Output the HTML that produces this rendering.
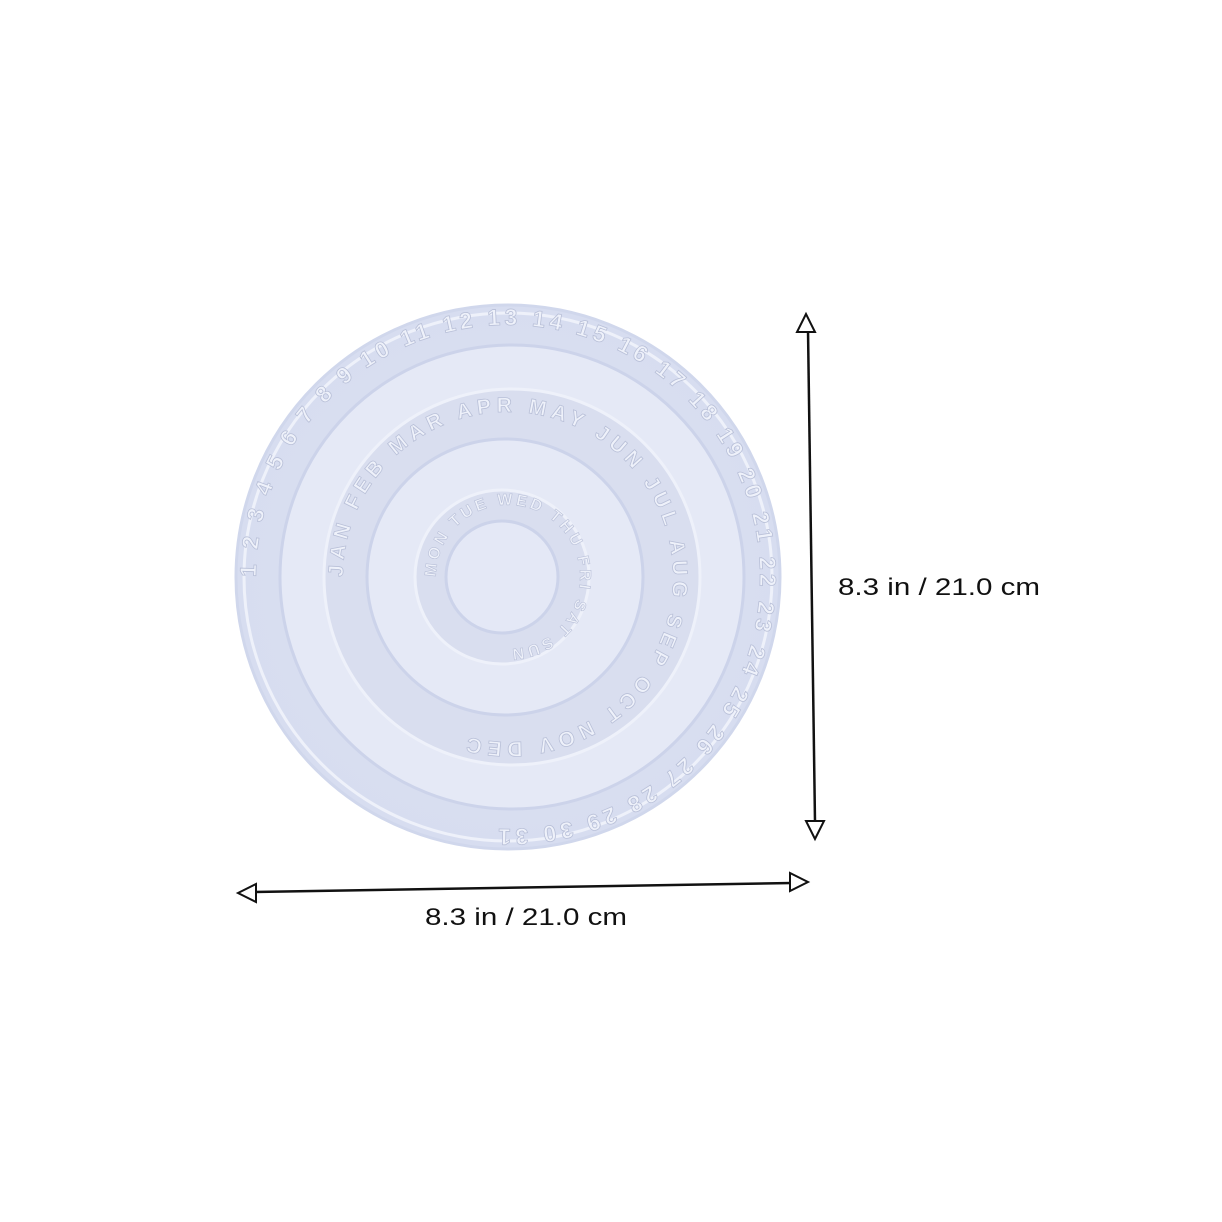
<!DOCTYPE html>
<html><head><meta charset="utf-8">
<style>
html,body{margin:0;padding:0;background:#fff;}
svg{display:block;}
text{font-family:"Liberation Sans",sans-serif;}
</style></head>
<body>
<svg width="1222" height="1222" viewBox="0 0 1222 1222">
<defs>
<radialGradient id="g" cx="50%" cy="50%" r="50%">
<stop offset="0" stop-color="#dde2f1"/><stop offset="1" stop-color="#d7ddf0"/>
</radialGradient>
<path id="p1" d="M508,577 m-252,0 a252,252 0 1,1 504,0 a252,252 0 1,1 -504,0"/>
<path id="p2" d="M508,577 m-165,0 a165,165 0 1,1 330,0 a165,165 0 1,1 -330,0"/>
<path id="p3" d="M508,577 m-72,0 a72,72 0 1,1 144,0 a72,72 0 1,1 -144,0"/>
</defs>
<g>
<circle cx="508" cy="577" r="272" fill="url(#g)" stroke="#d0d7ec" stroke-width="3"/>
<circle cx="508" cy="577" r="264" fill="none" stroke="#eef1fa" stroke-width="3"/>
<text font-size="23" font-weight="bold" fill="#eef1fa" stroke="#b9c0d8" stroke-width="0.8" letter-spacing="4"><textPath href="#p1">1 2 3 4 5 6 7 8 9 10 11 12 13 14 15 16 17 18 19 20 21 22 23 24 25 26 27 28 29 30 31</textPath></text>
<circle cx="512" cy="577" r="232" fill="#e5e9f6" stroke="#ccd3ea" stroke-width="3"/>
<circle cx="512" cy="577" r="188" fill="#d9deef" stroke="#eef1fa" stroke-width="3"/>
<text font-size="21" font-weight="bold" fill="#eef1fa" stroke="#b9c0d8" stroke-width="0.8" letter-spacing="5"><textPath href="#p2">JAN FEB MAR APR MAY JUN JUL AUG SEP OCT NOV DEC</textPath></text>
<circle cx="505" cy="577" r="138" fill="#e5e9f6" stroke="#ccd3ea" stroke-width="3"/>
<circle cx="502" cy="577" r="87" fill="#d9deef" stroke="#eef1fa" stroke-width="3"/>
<text font-size="16" font-weight="bold" fill="#eef1fa" stroke="#b9c0d8" stroke-width="0.6" letter-spacing="3"><textPath href="#p3">MON TUE WED THU FRI SAT SUN</textPath></text>
<circle cx="502" cy="577" r="56" fill="#e4e8f6" stroke="#ccd3ea" stroke-width="3"/>
</g>
<g stroke="#111" stroke-width="2.5" fill="#fff">
<line x1="808" y1="330" x2="815" y2="822"/>
<polygon points="806,314 797,332 815,332" stroke-width="2"/>
<polygon points="815,839 806,821 824,821" stroke-width="2"/>
</g>
<text x="838" y="595" font-size="24" fill="#111" textLength="202" lengthAdjust="spacingAndGlyphs">8.3 in / 21.0 cm</text>
<g stroke="#111" stroke-width="2.5" fill="#fff">
<line x1="254" y1="892" x2="792" y2="883"/>
<polygon points="238,893 256,884 256,902" stroke-width="2"/>
<polygon points="808,882 790,873 790,891" stroke-width="2"/>
</g>
<text x="425" y="925" font-size="24" fill="#111" textLength="202" lengthAdjust="spacingAndGlyphs">8.3 in / 21.0 cm</text>
</svg>
</body></html>
